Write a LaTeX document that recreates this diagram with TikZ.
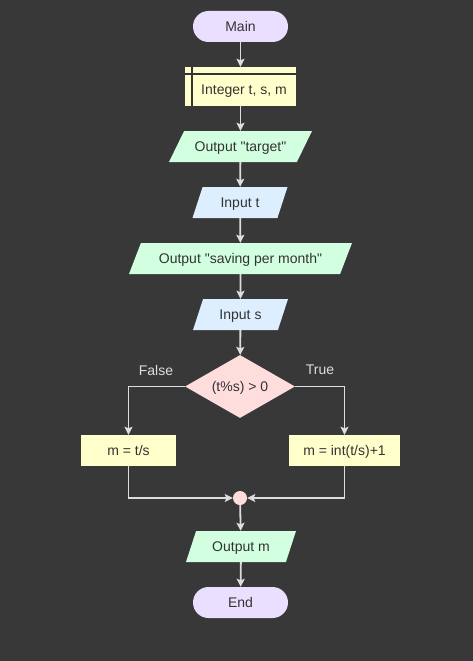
\documentclass[tikz,border=0pt]{standalone}
\usepackage{fontspec}
\setmainfont{Liberation Sans}[Ligatures=TeXOff]
\usetikzlibrary{shapes.geometric,arrows.meta}

\definecolor{bgcol}{HTML}{383838}
\definecolor{linecol}{HTML}{DDDDDD}
\definecolor{textcol}{HTML}{333333}
\definecolor{termcol}{HTML}{EBDFFF}
\definecolor{declcol}{HTML}{FFFFCC}
\definecolor{outcol}{HTML}{D2FFDF}
\definecolor{incol}{HTML}{DDEEFF}
\definecolor{condcol}{HTML}{FFDDDD}

\tikzset{
  base/.style={font=\fontsize{14}{16}\selectfont, text=textcol,
    text height=11.5pt, text depth=1.5pt, inner xsep=0pt, inner ysep=9pt},
  term/.style={base, rectangle, rounded corners=15.5pt, fill=termcol, minimum width=95pt},
  decl/.style={base, rectangle, fill=declcol, minimum width=111pt, minimum height=39pt},
  proc/.style={base, rectangle, fill=declcol, minimum height=31pt},
  io/.style 2 args={base, trapezium, trapezium left angle=#1, trapezium right angle=#2,
    trapezium stretches body},
  arrow/.style={draw=linecol, line width=1.8pt, -{Stealth[length=8pt,width=8pt,inset=1.5pt]}},
  lbl/.style={font=\fontsize{14}{16}\selectfont, text=linecol}
}

\begin{document}
\begin{tikzpicture}[x=1pt,y=-1pt]
        % background
        \fill[bgcol] (0,0) rectangle (473,661);
        \useasboundingbox (0,0) rectangle (473,661);

        % nodes
        \node[term] (main) at (240.5,26.5) {Main};
        \node[decl] (vars) at (240.5,86.5) {\hspace*{7pt}\raisebox{-3pt}{Integer t, s, m}};
        \node[io={64}{116}, fill=outcol, minimum width=143pt] (outtarget) at (240.5,146.5) {Output "target"};
        \node[io={72}{108}, fill=incol, minimum width=95pt] (int) at (240,202.5) {Input t};
        \node[io={69}{111}, fill=outcol, minimum width=223pt] (outsaving) at (240.5,258.5) {Output "saving per month"};
        \node[io={72}{108}, fill=incol, minimum width=95pt] (ins) at (240.5,314.5) {Input s};
        \node[diamond, base, inner sep=0pt, aspect=1.75, fill=condcol, minimum width=110pt, minimum height=63pt] (cond) at (240,386.5) {(t\%s) > 0};
        \node[proc, minimum width=95pt] (mfalse) at (128.5,450.5) {m = t/s};
        \node[proc, minimum width=111pt] (mtrue) at (344.5,450.5) {m = int(t/s)+1};
        \node[circle, fill=condcol, inner sep=0pt, minimum size=14pt] (join) at (240,498) {};
        \node[io={72}{108}, fill=outcol, minimum width=110pt] (outm) at (241,546.5) {Output m};
        \node[term] (stop) at (240.5,602.5) {End};

        % declaration box marks
        \draw[textcol, line width=1.8pt] ([xshift=7pt]vars.north west) -- ([xshift=7pt]vars.south west);
        \draw[textcol, line width=1.8pt] ([yshift=-7.5pt]vars.north west) -- ([yshift=-7.5pt]vars.north east);

        % branch labels
        \node[lbl] (flbl) at (156,370) {False};
        \node[lbl] (tlbl) at (320,370) {True};

        % connectors
        \draw[arrow] (main) -- (vars);
        \draw[arrow] (vars) -- (outtarget);
        \draw[arrow] (outtarget) -- (int);
        \draw[arrow] (int) -- (outsaving);
        \draw[arrow] (outsaving) -- (ins);
        \draw[arrow] (ins) -- (cond);
        \draw[arrow] (cond.west) -| (mfalse.north);
        \draw[arrow] (cond.east) -| (mtrue.north);
        \draw[arrow] (mfalse.south) |- (join.west);
        \draw[arrow] (mtrue.south) |- (join.east);
        \draw[arrow] (join) -- (outm);
        \draw[arrow] (outm) -- (stop);
    \end{tikzpicture}
\end{document}
